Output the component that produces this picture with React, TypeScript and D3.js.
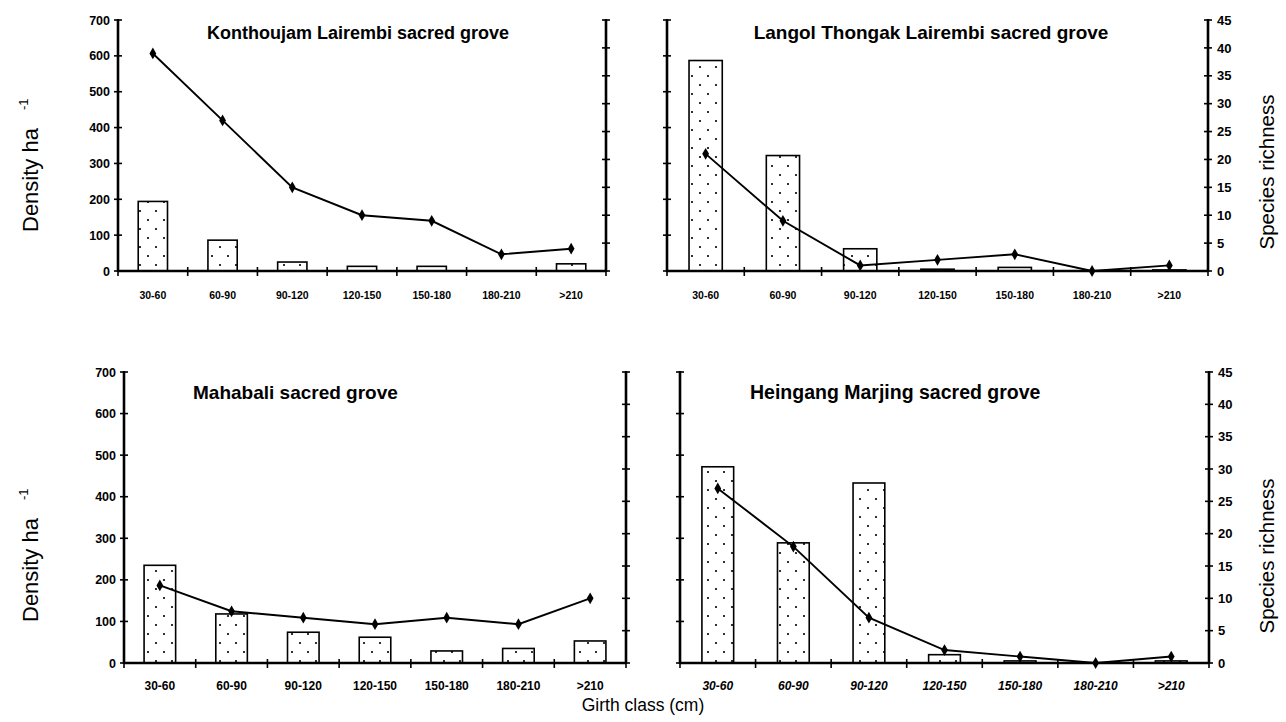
import React from "react";
import * as d3 from "d3";

const categories = ["30-60", "60-90", "90-120", "120-150", "150-180", "180-210", ">210"];
const densityTicks = [0, 100, 200, 300, 400, 500, 600, 700];
const richnessTicks = [0, 5, 10, 15, 20, 25, 30, 35, 40, 45];

const titles = [
  "Konthoujam Lairembi sacred grove",
  "Langol Thongak Lairembi sacred grove",
  "Mahabali sacred grove",
  "Heingang Marjing sacred grove",
];

const konthoujamDensity = [194, 86, 25, 13, 13, 0, 20];
const konthoujamRichness = [39, 27, 15, 10, 9, 3, 4];
const langolDensity = [587, 322, 62, 5, 10, 0, 3];
const langolRichness = [21, 9, 1, 2, 3, 0, 1];
const mahabaliDensity = [235, 118, 74, 62, 29, 35, 53];
const mahabaliRichness = [12, 8, 7, 6, 7, 6, 10];
const heingangDensity = [472, 289, 433, 20, 5, 0, 5];
const heingangRichness = [27, 18, 7, 2, 1, 0, 1];

const densities = [konthoujamDensity, langolDensity, mahabaliDensity, heingangDensity];
const richnesses = [konthoujamRichness, langolRichness, mahabaliRichness, heingangRichness];

type Layout = {
  x0: number; x1: number; yTop: number; yBot: number;
  leftLabels: boolean; rightLabels: boolean;
  catSize: number; catStyle: string; catDy: number;
  titleX: number; titleY: number; titleSize: number; titleAnchor: string;
  barRatio: number;
};

const layouts: Layout[] = [
  { x0: 118, x1: 606, yTop: 20, yBot: 271, leftLabels: true, rightLabels: false, catSize: 10.5, catStyle: "normal", catDy: 28, titleX: 358, titleY: 39, titleSize: 18, titleAnchor: "middle", barRatio: 0.42 },
  { x0: 667, x1: 1208, yTop: 20, yBot: 271, leftLabels: false, rightLabels: true, catSize: 10.5, catStyle: "normal", catDy: 28, titleX: 931, titleY: 39, titleSize: 19, titleAnchor: "middle", barRatio: 0.43 },
  { x0: 124, x1: 626, yTop: 372, yBot: 663, leftLabels: true, rightLabels: false, catSize: 12, catStyle: "normal", catDy: 27, titleX: 193, titleY: 399, titleSize: 19, titleAnchor: "start", barRatio: 0.44 },
  { x0: 680, x1: 1209, yTop: 372, yBot: 663, leftLabels: false, rightLabels: true, catSize: 12, catStyle: "italic", catDy: 27, titleX: 750, titleY: 399, titleSize: 19.5, titleAnchor: "start", barRatio: 0.42 },
];

const FONT = "Arial, 'Liberation Sans', Helvetica, sans-serif";

function Panel({ idx }: { idx: number }) {
  const L = layouts[idx];
  const dens = densities[idx];
  const rich = richnesses[idx];
  const xBand = d3.scaleBand<string>().domain(categories).range([L.x0, L.x1]).paddingInner(0).paddingOuter(0);
  const yD = d3.scaleLinear().domain([0, 700]).range([L.yBot, L.yTop]);
  const yR = d3.scaleLinear().domain([0, 45]).range([L.yBot, L.yTop]);
  const bw = xBand.bandwidth();
  const barW = bw * L.barRatio;
  const line = d3.line<number>()
    .x((_, i) => (xBand(categories[i]) as number) + bw / 2)
    .y((d) => yR(d));
  const diamond = d3.symbol().type(d3.symbolDiamond).size(40)();
  const boundaries = d3.range(categories.length + 1).map((i) => L.x0 + i * bw);
  return (
    <g>
      {dens.map((v, i) => {
        const x = (xBand(categories[i]) as number) + (bw - barW) / 2;
        const h = L.yBot - yD(v);
        if (v <= 0) return null;
        return (
          <rect key={"b" + i} x={x} y={yD(v)} width={barW} height={h}
            fill="url(#dots)" stroke="#000" strokeWidth={1.6} />
        );
      })}
      <line x1={L.x0} x2={L.x1} y1={L.yBot} y2={L.yBot} stroke="#000" strokeWidth={2.6} />
      {boundaries.map((bx, i) => (
        <line key={"xt" + i} x1={bx} x2={bx} y1={L.yBot - 4} y2={L.yBot + 5} stroke="#000" strokeWidth={1.6} />
      ))}
      {categories.map((c) => (
        <text key={"xl" + c} x={(xBand(c) as number) + bw / 2} y={L.yBot + L.catDy}
          textAnchor="middle" fontFamily={FONT} fontWeight="bold" fontSize={L.catSize}
          fontStyle={L.catStyle} fill="#000">{c}</text>
      ))}
      <line x1={L.x0} x2={L.x0} y1={L.yTop - 1} y2={L.yBot + 1} stroke="#000" strokeWidth={2.6} />
      {densityTicks.map((t) => (
        <g key={"lt" + t}>
          <line x1={L.x0 - 4} x2={L.x0 + 4} y1={yD(t)} y2={yD(t)} stroke="#000" strokeWidth={1.6} />
          {L.leftLabels && (
            <text x={L.x0 - 8} y={yD(t)} dy="0.36em" textAnchor="end" fontFamily={FONT}
              fontWeight="bold" fontSize={12.5} fill="#000">{t}</text>
          )}
        </g>
      ))}
      <line x1={L.x1} x2={L.x1} y1={L.yTop - 1} y2={L.yBot + 1} stroke="#000" strokeWidth={2.6} />
      {richnessTicks.map((t) => (
        <g key={"rt" + t}>
          <line x1={L.x1 - 4} x2={L.x1 + 4} y1={yR(t)} y2={yR(t)} stroke="#000" strokeWidth={1.6} />
          {L.rightLabels && (
            <text x={L.x1 + 9} y={yR(t)} dy="0.36em" textAnchor="start" fontFamily={FONT}
              fontWeight="bold" fontSize={13} fill="#000">{t}</text>
          )}
        </g>
      ))}
      <path d={line(rich) || ""} fill="none" stroke="#000" strokeWidth={1.9} />
      {rich.map((v, i) => (
        <path key={"m" + i} d={diamond || ""}
          transform={`translate(${(xBand(categories[i]) as number) + bw / 2},${yR(v)})`} fill="#000" />
      ))}
      <text x={L.titleX} y={L.titleY} textAnchor={L.titleAnchor} fontFamily={FONT}
        fontWeight="bold" fontSize={L.titleSize} fill="#000">{titles[idx]}</text>
    </g>
  );
}

export default function App() {
  return (
    <svg width={1286} height={722} style={{ position: "absolute", left: 0, top: 0, background: "#fff" }}>
      <defs>
        <pattern id="dots" patternUnits="userSpaceOnUse" width={16} height={18}>
          <rect width={16} height={18} fill="#fff" />
          <circle cx={4} cy={4} r={1.1} fill="#000" />
          <circle cx={12} cy={13} r={1.1} fill="#000" />
        </pattern>
      </defs>
      <rect width={1286} height={722} fill="#fff" />
      {layouts.map((_, i) => <Panel key={i} idx={i} />)}
      {[232, 622].map((by) => (
        <text key={"dl" + by} transform={`translate(38,${by}) rotate(-90)`} textAnchor="start"
          fontFamily={FONT} fontSize={22} fill="#000">
          Density ha<tspan dx={18} dy={-10} fontSize={13}>-1</tspan>
        </text>
      ))}
      {[172, 556].map((cy) => (
        <text key={"sr" + cy} transform={`translate(1274,${cy}) rotate(-90)`} textAnchor="middle"
          fontFamily={FONT} fontSize={20.5} fill="#000">Species richness</text>
      ))}
      <text x={643} y={711} textAnchor="middle" fontFamily={FONT} fontSize={17.5} fill="#000">Girth class (cm)</text>
    </svg>
  );
}
